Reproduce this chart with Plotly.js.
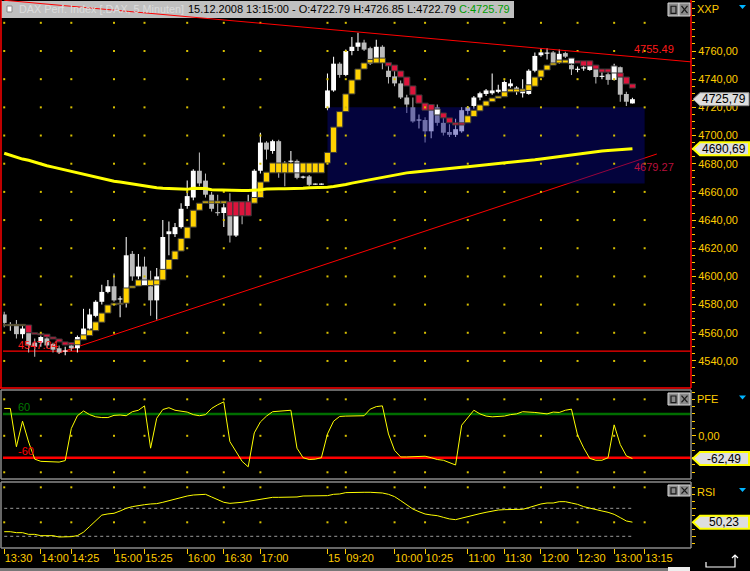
<!DOCTYPE html>
<html><head><meta charset="utf-8">
<script src="https://cdn.plot.ly/plotly-3.0.1.min.js"></script>
<style>html,body{margin:0;padding:0;background:#000;}#chart{width:750px;height:571px;}</style>
</head><body><div id="chart"></div>
<script>
// ---------------- DATA ----------------
const lastDate = "15.12.2008";
const times = ["13:30","13:35","13:40","13:45","13:50","13:55","14:00","14:05","14:10","14:15","14:20","14:25","14:30","14:35","14:40","14:45","14:50","14:55","15:00","15:05","15:10","15:15","15:20","15:25","15:30","15:35","15:40","15:45","15:50","15:55","16:00","16:05","16:10","16:15","16:20","16:25","16:30","16:35","16:40","16:45","16:50","16:55","17:00","17:05","17:10","17:15","17:20","17:25","17:30","17:35","17:40","17:45","17:50",
"09:05","09:10","09:15","09:20","09:25","09:30","09:35","09:40","09:45","09:50","09:55","10:00","10:05","10:10","10:15","10:20","10:25","10:30","10:35","10:40","10:45","10:50","10:55","11:00","11:05","11:10","11:15","11:20","11:25","11:30","11:35","11:40","11:45","11:50","11:55","12:00","12:05","12:10","12:15","12:20","12:25","12:30","12:35","12:40","12:45","12:50","12:55","13:00","13:05","13:10","13:15"];

const open = [4573,4565.5,4566,4559,4560,4553,4553,4556,4552,4549,
4547,4551,4549,4557,4563,4572,4582,4589,4593,4584,
4591,4616,4600,4607,4593,4583,4600,4630,4630,4635,
4650,4656,4675,4668,4658,4645.5,4645,4646,4629,4647,
4645,4655,4675,4695,4689,4696,4680.5,4681.5,4682,4670.5,
4671,4665.5,4665.5,4719.5,4732,4751,4743,4760,4763,4766,
4762,4755,4763,4746,4742,4737,4727,4720,4711,4711,
4703,4720,4709,4702.5,4700.5,4703,4717.5,4721,4727,4729.5,
4730,4731,4731,4735,4731,4730,4729.5,4746,4757,4758.5,
4759,4752,4758.5,4750,4747,4748,4746.5,4748,4742,4743.5,
4739.5,4748.5,4729.5,4722.79];
const high = [4575,4567.5,4569,4565,4562,4556,4558,4557,4553,4551,
4550,4553,4558,4577,4577,4583,4594,4597.5,4602,4586,
4628,4618,4616,4614,4604,4606,4640,4639,4638,4652,
4668,4676,4688,4673,4660,4658,4652,4659,4652,4652,
4658,4676,4702,4696,4697,4697,4682,4689,4683,4671.5,
4672,4666,4666,4744,4756,4752,4761,4770,4773,4768,
4763,4768,4764,4751,4746,4739,4729,4727,4715,4713,
4722,4722,4713,4708,4712,4720,4721,4728,4731,4733,
4744,4736,4739,4740,4735,4740,4747,4759,4762,4762,
4760,4761,4759.5,4751,4749,4750,4752,4749,4746,4745,
4751,4749,4731,4726.85];
const low = [4564,4561.5,4556,4556,4546,4543,4550,4549,4546,4545,
4544,4547,4546,4555,4562,4571,4580,4588,4582,4571,
4578,4597,4598,4595,4572,4569.5,4599,4615,4628,4634,
4648,4654,4664,4656,4646,4643,4635,4624,4628,4637,
4643,4652,4673,4683,4687,4670,4664,4680,4669,4669.5,
4664,4665,4665,4718,4731,4741,4742,4757,4760,4760,
4750,4754,4747,4737,4735,4726,4716,4709,4705,4695,
4698,4707,4700,4699,4699,4702,4715,4719,4725,4728,
4729,4730,4730,4734,4729,4727,4729,4745,4756,4754,
4751,4751,4755,4743,4745,4746,4746,4737,4740,4736,
4739,4724,4721,4722.79];
const close = [4567,4565.5,4559,4563,4551,4550,4557,4551,4548,4546,
4547,4549,4557,4563,4573,4582,4589,4593,4583,4584,
4615,4600,4607,4597,4583,4600,4628,4632,4635,4648,
4657,4675,4666,4658,4648,4645,4649,4629,4645,4645,
4650,4675,4695,4690,4696,4680,4680,4682,4670,4670.5,
4665,4665.5,4665.5,4732,4751,4743,4760,4763,4766,4761,
4751,4763,4751.5,4741.5,4737,4727,4722,4710,4711,4703,
4719.5,4709,4702,4700.5,4704.5,4718,4720,4727,4730,4732,
4732,4732.5,4738,4737,4734,4733,4746,4756.5,4759,4758.5,
4751.5,4758,4756,4747,4747,4748,4750,4741.5,4742,4739.5,
4747,4729,4724,4725.79];

// smoothed (Heikin-Ashi style) boxes
const haOpen = [4565,4565,4565,4565,4565.5,4560,4559.5,4559,4557,4555.6,
4553.5,4553,4551.5,4555,4558,4561.5,4567.5,4574,4579.7,4580,
4581,4591.8,4593.2,4593.5,4593.5,4594,4597.5,4605,4612,4618,
4627,4635,4647,4652,4652,4652,4652,4653,4653,4653,
4653,4652,4656,4667,4673.5,4673.5,4673.5,4673.5,4673.5,4673.5,
4673.5,4673.5,4673.5,4680.5,4688,4706,4717,4729.5,4739.4,4747.2,
4751.5,4751.5,4751.5,4751.7,4750,4745.8,4741.5,4735.2,4728.8,4723,
4722,4718.8,4716,4712.5,4709,4709,4709,4713.5,4717.5,4721,
4724,4726.5,4727.5,4731,4731,4731.5,4732,4735,4741.5,4746.5,
4750,4751.5,4751.5,4755,4753,4753,4753,4750,4747.2,4747.2,
4749.4,4744.4,4741.5,4736.6];
const haClose = [4566,4566,4566,4566,4560,4559,4558.5,4557,4555.6,4553.5,
4551.3,4551.5,4555,4558.5,4562,4567.7,4574,4579.7,4581,4581,
4591.8,4593.2,4597.5,4597.5,4597.5,4597.5,4605,4612,4618,4627,
4635,4647,4652,4653.5,4653.5,4653.5,4653.5,4643,4643,4643,
4643,4656,4667,4674,4680.5,4680.5,4680.5,4680.5,4680.5,4680.5,
4680.5,4680.5,4680.5,4688,4706,4717,4729.5,4739.4,4747.2,4751.5,
4754,4755,4755,4749.4,4745.8,4741.5,4735.2,4728.8,4723,4718,
4718,4714.6,4712.5,4709,4707.5,4707.5,4714,4718,4721.7,4724.5,
4726.6,4728,4731,4733,4733,4733,4736,4741.5,4746.5,4750,
4751.5,4753.6,4753.6,4750.8,4751.5,4749.4,4749.4,4747.2,4745,4745,
4744.4,4741.5,4736.6,4733.7];
// u = rising, d = falling, n = neutral
const haState = ("uuuudddddd"+"dduuuuuuuu"+"uuunuuuuuu"+"uuuuuuuddd"+"duuuuuuunu"+
"uuuuuuuuuu"+"uuuddddddd"+"dndddduuuu"+"uuuuuuuuuu"+"uuundddddd"+"nddd").split("");

const ma = [4687.4,4686,4684.3,4683.3,4682.4,4681,4679.6,4678.6,4677.6,4676.6,
4675.4,4674.3,4673.2,4672.2,4671.2,4670.2,4669.2,4668.2,4667.5,4667,
4666.3,4665.4,4664.7,4664,4663.5,4663,4662.6,4662.3,4662,4661.8,
4661.8,4662.6,4662.6,4662.4,4661.6,4661.4,4661.3,4661.3,4661.2,4661,
4661,4661,4661.5,4662,4662.3,4662.3,4662.3,4662.3,4662.3,4662.5,
4663,4663,4663,4663.3,4663.8,4664.4,4665.2,4666.2,4667,4667.8,
4668.8,4669.7,4670.6,4671.3,4672,4672.8,4673.5,4674,4674.5,4675,
4675.5,4675.8,4676.3,4676.8,4677.2,4677.5,4677.9,4678.3,4678.8,4679.3,
4679.6,4680.1,4680.6,4681,4681.4,4681.9,4682.3,4682.8,4683.4,4684,
4684.6,4685.3,4685.8,4686.4,4687,4687.5,4688,4688.5,4689,4689.4,
4689.8,4690.1,4690.4,4690.69];

const pfe = [75,75,-30,40,-17,-64,-70,-71,-71,-72,
-68,20,55,68,58,52,50,50,56,57,
55,66,70,82,-34,48,72,77,70,68,
65,58,55,58,75,85,93,-16,-45,-70,
-85,8,38,54,66,68,70,70,-34,-60,
-65,-64,-60,5,40,53,54,54,54,55,
73,80,82,5,-40,-58,-58,-58,-57,-56,
-60,-65,-67,-73,-80,29,51,70,60,54,
52,52,54,58,60,66,66,64,62,60,
65,64,70,73,2,-33,-62,-67,-67,-60,
30,-24,-55,-62.49];

const rsi = [36.6,36.6,35.2,35.2,32.8,32.8,30.9,30.9,30.9,29,
29,29.5,31,35.9,44,52.6,60.3,62,62.9,66.2,
70,72.4,74.3,75.2,76.2,76.7,78.6,81,82.9,85.2,
87.6,89,90,90,86.2,82.4,78.6,77.1,77.6,78.6,
80,81.4,83.3,85.2,85.7,85.7,85.7,85.7,86.2,87.6,
87.6,87.6,87.6,88.1,90,90.5,92.4,92.9,92.9,92.9,
92.9,92.9,91.9,90,86.7,81,74.8,69,65.2,61.9,
60.5,59.5,57.1,54.8,53.8,56.2,58.6,60.5,62.4,64.3,
66.2,67.6,68.1,68.6,68.6,68.6,71,73.8,76.2,77.6,
77.6,79.5,79.5,77.6,75.7,72.4,70,68.1,66.2,64.3,
61.4,56.7,51.9,50.23];

const tickIdx  = [0,6,11,18,23,30,36,42,53,56,64,69,76,82,88,94,100,105];
const tickText = ["13:30","14:00","14:25","15:00","15:25","16:00","16:30","17:00","15","09:20","10:00","10:25","11:00","11:30","12:00","12:30","13:00","13:15"];
const priceTicks = [4540,4560,4580,4600,4620,4640,4660,4680,4700,4720,4740,4760];
const priceGrid  = [4540,4560,4580,4600,4620,4640,4660,4680,4700,4720,4740,4760,4780];
const pfeGrid = [100,0,-100];
const rsiGrid = [100,50];
const resX = [0,112.6], resY = [4796,4752.3];     // falling trend line
const supX = [8.8,107],  supY = [4545.4,4686.9];  // rising trend line
const resLabel = 4755.49, supLabel = 4679.27;
const hLevel = 4547.04;
const zoneX = [53,105], zoneY = [4666,4720];
const pfeLevels = [60,-60];
const rsiLevels = [70,30];

// ---------------- GEOMETRY ----------------
const W=750,H=571,ML=3,MR=59,MT=0,MB=22,PW=W-ML-MR,PH=H-MT-MB;
const px = x => (x-ML)/PW;
const py = y => 1-(y-MT)/PH;
const FONT = "'Liberation Sans',Arial,sans-serif";
const YEL = '#ffcc00';
const N = times.length, last = N-1;
const idx = times.map((_,i)=>i);
const fmtC = v => v.toFixed(2).replace('.',',');

// candles
const candleCol = close.map((c,i)=> c>=open[i] ? '#ffffff' : '#bcbcbc');
const MINB = 0.8;
const bodyH = open.map((o,i)=>Math.max(Math.abs(close[i]-o),MINB));
const bodyB = open.map((o,i)=>{const lo=Math.min(o,close[i]),h=Math.abs(close[i]-o);return h<MINB?lo+h/2-MINB/2:lo;});
const haCol = haState.map(s=> s==='u'?'#ffd200':(s==='d'?'#dc143c':'#ffffff'));
const MINH = 1.0;
const haH = haOpen.map((o,i)=>Math.max(Math.abs(haClose[i]-o),MINH));
const haB = haOpen.map((o,i)=>{const lo=Math.min(o,haClose[i]),h=Math.abs(haClose[i]-o);return h<MINH?lo+h/2-MINH/2:lo;});

function grid(xs, ys){const gx=[],gy=[];xs.forEach(x=>ys.forEach(y=>{gx.push(x);gy.push(y);}));return {gx,gy};}
const g1=grid(tickIdx,priceGrid), g2=grid(tickIdx,pfeGrid), g3=grid(tickIdx,rsiGrid);
const dot = {symbol:'square', size:2, color:'#d8c000'};

const traces = [
 {type:'bar', x:idx, base:low, y:high.map((h,i)=>h-low[i]), width:0.17, marker:{color:candleCol,line:{width:0}}, xaxis:'x', yaxis:'y'},
 {type:'bar', x:idx, base:bodyB, y:bodyH, width:0.8, marker:{color:candleCol,line:{width:0}}, xaxis:'x', yaxis:'y'},
 {type:'bar', x:[(zoneX[0]+zoneX[1])/2], base:[zoneY[0]], y:[zoneY[1]-zoneY[0]], width:[zoneX[1]-zoneX[0]], marker:{color:'rgba(7,7,143,0.42)',line:{width:0}}, xaxis:'x', yaxis:'y'},
 {type:'bar', x:idx, base:haB, y:haH, width:1.0, marker:{color:haCol,line:{color:'#3a3a3a',width:1}}, xaxis:'x', yaxis:'y'},
 {type:'scatter', mode:'markers', x:g1.gx, y:g1.gy, marker:dot, xaxis:'x', yaxis:'y'},
 {type:'scatter', mode:'lines', x:idx, y:ma, line:{color:'#ffff00',width:3}, xaxis:'x', yaxis:'y'},
 {type:'scatter', mode:'markers', x:g2.gx, y:g2.gy, marker:dot, xaxis:'x2', yaxis:'y2'},
 {type:'scatter', mode:'lines', x:idx, y:pfe, line:{color:'#ffff00',width:1}, xaxis:'x2', yaxis:'y2'},
 {type:'scatter', mode:'markers', x:g3.gx, y:g3.gy, marker:dot, xaxis:'x3', yaxis:'y3'},
 {type:'scatter', mode:'lines', x:[0,last,null,0,last], y:[rsiLevels[0],rsiLevels[0],null,rsiLevels[1],rsiLevels[1]], line:{color:'#9a9a9a',width:1,dash:'dot'}, xaxis:'x3', yaxis:'y3'},
 {type:'scatter', mode:'lines', x:idx, y:rsi, line:{color:'#ffff00',width:1}, xaxis:'x3', yaxis:'y3'}
];

const xr = [-0.2,112.6];
const xBase = {range:xr, showgrid:false, zeroline:false, showline:false, fixedrange:true};
const shapes = [], ann = [];

// level lines below traces
shapes.push({type:'line', xref:'x', yref:'y', x0:supX[0], y0:supY[0], x1:supX[1], y1:supY[1], line:{color:'#ff0000',width:1}, layer:'below'});
shapes.push({type:'line', xref:'paper', yref:'y', x0:0, x1:1, y0:hLevel, y1:hLevel, line:{color:'#ff0000',width:1.2}, layer:'below'});
shapes.push({type:'line', xref:'paper', yref:'y2', x0:0, x1:1, y0:pfeLevels[0], y1:pfeLevels[0], line:{color:'#006e00',width:2.5}, layer:'below'});
shapes.push({type:'line', xref:'paper', yref:'y2', x0:0, x1:1, y0:pfeLevels[1], y1:pfeLevels[1], line:{color:'#ff0000',width:2.5}, layer:'below'});

const L = (x0,y0,x1,y1,c,w)=>shapes.push({type:'line', xref:'paper', yref:'paper', x0:px(x0), y0:py(y0), x1:px(x1), y1:py(y1), line:{color:c,width:w}, layer:'above'});
const R = (x0,y0,x1,y1,fill,lc,lw)=>shapes.push({type:'rect', xref:'paper', yref:'paper', x0:px(x0), y0:py(y0), x1:px(x1), y1:py(y1), fillcolor:fill, line:{color:lc||fill,width:lw||0}, layer:'above'});

// header bar (over the chart), then the falling trend line on top of it
R(1,1,514,18,'#c0c0c0');
R(7,6,12,12,'#ffffff','#8a8a8a',1);
shapes.push({type:'line', xref:'x', yref:'y', x0:resX[0], y0:resY[0], x1:resX[1], y1:resY[1], line:{color:'#ff0000',width:1}, layer:'above'});

// panel frames
L(1,0,1,388,'#ff0000',1.5); L(691,0,691,388,'#ff0000',1.5); L(0,388,691,388,'#ff0000',1.5);
L(1,390,691,390,'#8a8a8a',1.5); L(1,479,691,479,'#8a8a8a',1.5); L(1,390,1,479,'#8a8a8a',1.5); L(691,390,691,479,'#8a8a8a',1.5);
L(1,482,691,482,'#8a8a8a',1.5); L(1,548,691,548,'#8a8a8a',1.5); L(1,482,1,548,'#8a8a8a',1.5); L(691,482,691,548,'#8a8a8a',1.5);

// window buttons
function buttons(y0,y1){
  R(668,y0,679,y1,'#8a8a8a','#d8d8d8',1); R(679,y0,690,y1,'#8a8a8a','#d8d8d8',1);
  const m=(y1-y0);
  R(671,y0+m*0.25,676,y1-m*0.2,'rgba(0,0,0,0)','#1a1a1a',1.2);
  L(681.5,y0+m*0.22,687.5,y1-m*0.22,'#1a1a1a',1.3); L(687.5,y0+m*0.22,681.5,y1-m*0.22,'#1a1a1a',1.3);
}
buttons(3,16); buttons(393,405); buttons(485,496);
function tri(yt){shapes.push({type:'path', xref:'paper', yref:'paper', path:`M ${px(739)},${py(yt)} L ${px(746)},${py(yt)} L ${px(742.5)},${py(yt+4)} Z`, fillcolor:'#00b4ff', line:{width:0}, layer:'above'});}
tri(5); tri(395.5); tri(488);
// scrollbar
R(0,568,668,571,'#777777'); R(668,567,690,571,'#eeeeee');
// return arrow icon
shapes.push({type:'path', xref:'paper', yref:'paper', path:`M ${px(735)},${py(555)} L ${px(735)},${py(567)} L ${px(706)},${py(567)} L ${px(706)},${py(562)} M ${px(732)},${py(558)} L ${px(735)},${py(555)} L ${px(738)},${py(558)}`, line:{color:'#ffffff',width:1.2}, layer:'above'});

// value tags
function tag(yref,val,border,bw){
  shapes.push({type:'path', xref:'paper', yref:yref, xsizemode:'pixel', ysizemode:'pixel', xanchor:1, yanchor:val,
    path:'M 2,0 L 9,6.5 L 58,6.5 L 58,-6.5 L 9,-6.5 Z', fillcolor:'#dedede', line:{color:border,width:bw}, layer:'above'});
  ann.push({xref:'paper', yref:yref, x:px(724), y:val, text:fmtC(val), showarrow:false, xanchor:'center', yanchor:'middle', font:{color:'#000',size:12,family:FONT}});
}
tag('y', close[last], '#8c8c8c', 1);
tag('y', ma[last], '#ffff00', 2);
tag('y2', pfe[last], '#ffff00', 2);
tag('y3', rsi[last], '#ffff00', 2);

// texts
const A = (x,y,t,c,sz,xa)=>ann.push({xref:'paper', yref:'paper', x:px(x), y:py(y), text:t, showarrow:false, xanchor:xa||'left', yanchor:'middle', font:{color:c,size:sz||11,family:FONT}});
A(17,9.5,'DAX Perf. Index [.DAX, 5 Minuten]','#dcdcdc',10.8);
A(186,9.5,`${lastDate} ${times[last]}:00 - O:${open[last].toFixed(2)} H:${high[last].toFixed(2)} L:${low[last].toFixed(2)} <span style="color:#009c00">C:${close[last].toFixed(2)}</span>`,'#000000',11);
A(695,9.5,'XXP',YEL,11); A(695,399,'PFE',YEL,11); A(695,491.5,'RSI',YEL,11);
const TA = (xr_,yr_,x,y,ys,t,c)=>ann.push({xref:xr_, yref:yr_, x:x, y:y, yshift:ys, text:t, showarrow:false, xanchor:'left', yanchor:'middle', font:{color:c,size:11,family:FONT}});
TA('x','y',last,resLabel,8,resLabel.toFixed(2),'#ff1a1a');
TA('x','y',last,supLabel,-2,supLabel.toFixed(2),'#b8103e');
TA('x','y',2,hLevel,6,hLevel.toFixed(2),'#ff1a1a');
TA('x2','y2',2,pfeLevels[0],7,String(pfeLevels[0]),'#007a00');
TA('x2','y2',2,pfeLevels[1],7,String(pfeLevels[1]),'#ff0000');

const yCommon = {side:'right', showgrid:false, zeroline:false, fixedrange:true, ticks:'outside', ticklen:4, tickwidth:1, tickcolor:YEL, tickfont:{color:YEL,size:11,family:FONT}, showline:false};

const layout = {
  width:W, height:H, margin:{l:ML,r:MR,t:MT,b:MB}, paper_bgcolor:'#000', plot_bgcolor:'#000',
  showlegend:false, barmode:'overlay', separators:',.', hovermode:false,
  font:{family:FONT, size:11, color:YEL},
  xaxis: Object.assign({anchor:'y', showticklabels:false, ticks:''}, xBase),
  xaxis2: Object.assign({anchor:'y2', showticklabels:false, ticks:''}, xBase),
  xaxis3: Object.assign({anchor:'y3', tickmode:'array', tickvals:tickIdx, ticktext:tickText, ticks:'outside', ticklen:5, tickcolor:YEL, tickangle:0,
           ticklabelposition:'outside right', tickfont:{color:YEL,size:11,family:FONT}}, xBase),
  yaxis: Object.assign({}, yCommon, {anchor:'x', domain:[py(388),py(0)], range:[4520.8,4796.2], tickmode:'array', tickvals:priceTicks, tickformat:'.2f',
           minor:{ticks:'outside', ticklen:3, tickcolor:YEL, dtick:5, tick0:0}}),
  yaxis2: Object.assign({}, yCommon, {anchor:'x2', domain:[py(479),py(390)], range:[-118.4,125.5], tickmode:'array', tickvals:[0], tickformat:'.2f',
           minor:{ticks:'outside', ticklen:3, tickcolor:YEL, dtick:20, tick0:0}}),
  yaxis3: Object.assign({}, yCommon, {anchor:'x3', domain:[py(548),py(482)], range:[13.3,107.6], tickmode:'array', tickvals:[30,70], showticklabels:false,
           minor:{ticks:'outside', ticklen:3, tickcolor:YEL, dtick:10, tick0:0}}),
  shapes:shapes, annotations:ann
};

Plotly.newPlot('chart', traces, layout, {staticPlot:true, displayModeBar:false});
</script>
</body></html>
